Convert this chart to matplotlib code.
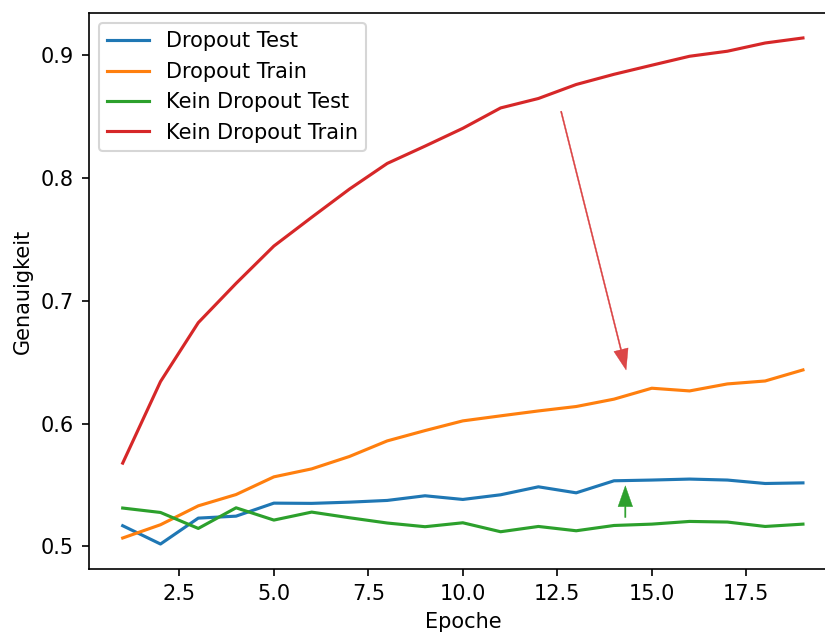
import numpy as np
import matplotlib
matplotlib.use("Agg")
from matplotlib import pyplot as plt

# accuracy per epoch, with and without dropout
epochs = list(range(1, 20))
dropout_test = [0.5168, 0.5019, 0.5230, 0.5246, 0.5352, 0.5350, 0.5360, 0.5374, 0.5412, 0.5382,
                0.5420, 0.5485, 0.5436, 0.5534, 0.5540, 0.5548, 0.5540, 0.5512, 0.5517]
dropout_train = [0.5068, 0.5176, 0.5330, 0.5422, 0.5566, 0.5631, 0.5732, 0.5859, 0.5943, 0.6022,
                 0.6063, 0.6103, 0.6139, 0.6199, 0.6288, 0.6266, 0.6323, 0.6347, 0.6437]
no_dropout_test = [0.5312, 0.5276, 0.5146, 0.5314, 0.5214, 0.5279, 0.5233, 0.5190, 0.5160, 0.5192,
                   0.5119, 0.5162, 0.5127, 0.5170, 0.5181, 0.5203, 0.5198, 0.5162, 0.5181]
no_dropout_train = [0.5678, 0.6342, 0.6822, 0.7142, 0.7446, 0.7680, 0.7910, 0.8119, 0.8260, 0.8405,
                    0.8571, 0.8648, 0.8762, 0.8845, 0.8919, 0.8992, 0.9033, 0.9100, 0.9141]

fig = plt.figure(figsize=(5.5, 4.22), dpi=150)
ax = fig.add_axes([0.1075, 0.1006, 0.907, 0.8794])

ax.plot(epochs, dropout_test, label="Dropout Test")
ax.plot(epochs, dropout_train, label="Dropout Train")
ax.plot(epochs, no_dropout_test, label="Kein Dropout Test")
ax.plot(epochs, no_dropout_train, label="Kein Dropout Train")

# gap between train and test
ax.annotate("", xy=(14.32, 0.6437), xytext=(12.6, 0.8544),
            arrowprops=dict(color="C3", alpha=0.85, width=0.6, headwidth=7, headlength=10,
                            shrink=0, linewidth=0.2))
ax.annotate("", xy=(14.3, 0.5493), xytext=(14.3, 0.5235),
            arrowprops=dict(color="C2", width=0.6, headwidth=7, headlength=10,
                            shrink=0, linewidth=0.2))

ax.spines["right"].set_visible(False)
ax.set_xlabel("Epoche")
ax.set_ylabel("Genauigkeit")
ax.legend(loc="upper left")

fig.savefig("out.png", dpi=150)
